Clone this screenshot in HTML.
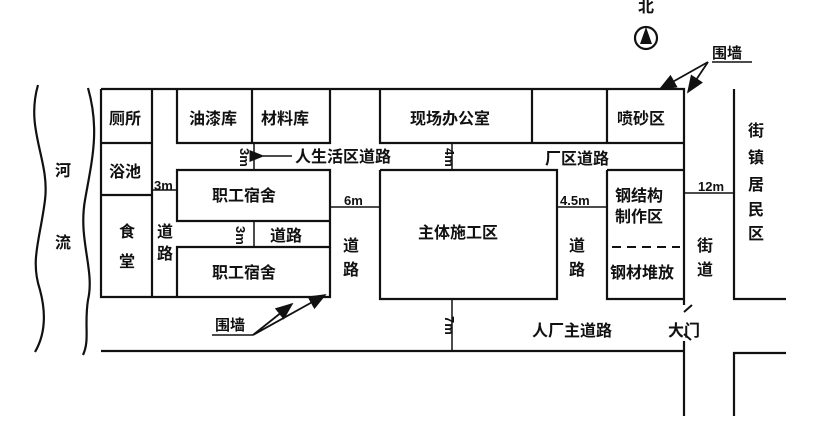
<!DOCTYPE html>
<html><head><meta charset="utf-8"><style>
html,body{margin:0;padding:0;background:#fff;}
svg text{font-family:"Liberation Sans","Noto Sans CJK SC",sans-serif;font-weight:bold;fill:#111;}
</style></head><body>
<svg width="813" height="416" viewBox="0 0 813 416" xmlns="http://www.w3.org/2000/svg">
<defs><marker id="ah" markerWidth="10" markerHeight="8" refX="9" refY="4" orient="auto"><path d="M0,0 L10,4 L0,8 z" fill="#111"/></marker></defs>
<g stroke="#111" stroke-width="2.2" fill="none">
<path d="M38,85 C25,130 50,160 45,200 C40,240 30,260 40,290 C48,320 42,340 35,352"/>
<path d="M88,88 C100,130 92,160 85,200 C78,240 95,270 88,300 C84,325 90,340 83,355"/>
<path d="M101,89 H684 V305"/>
<path d="M684,341 V416"/>
<path d="M101,89 V297 H177"/>
<path d="M101,351 H684"/>
<path d="M734,89 V299 H786"/>
<path d="M734,416 V353 H786"/>
<path d="M101,143 H152 M101,195 H152 M152,89 V297"/>
<path d="M177,89 V143 H330 V89 M252,89 V143"/>
<path d="M380,89 V143 H684 M532,89 V143 M607,89 V143"/>
<path d="M177,297 V247 H330 V170 H177 V221 H330"/>
<path d="M177,297 H330 V247"/>
<path d="M380,170 V299 H557 V170 H380"/>
<path d="M607,170 V299 H684 M607,170 H684"/>
</g>
<path d="M612,247 H680" stroke="#111" stroke-width="2" stroke-dasharray="9,6"/>
<path d="M684,312 L692,305 M684,334 L691,340" stroke="#111" stroke-width="2"/>
<g stroke="#111" stroke-width="1.5">
<line x1="452" y1="143" x2="452" y2="170"/><line x1="452" y1="299" x2="452" y2="351"/>
<line x1="152" y1="190" x2="177" y2="190"/><line x1="330" y1="207" x2="380" y2="207"/>
<line x1="557" y1="207" x2="607" y2="207"/><line x1="684" y1="193" x2="734" y2="193"/>
<line x1="254" y1="143" x2="254" y2="170"/><line x1="254" y1="221" x2="254" y2="247"/>
</g>
<circle cx="646" cy="38" r="11" stroke="#111" stroke-width="2.2" fill="#fff"/>
<path d="M646,27 L640,44 L652,44 z" fill="#111"/>
<text x="638" y="12" font-size="16">北</text>
<line x1="712" y1="62" x2="752" y2="62" stroke="#111" stroke-width="1.5"/>
<line x1="708" y1="62" x2="660" y2="89" stroke="#111" stroke-width="1.8" marker-end="url(#ah)"/>
<line x1="708" y1="62" x2="688" y2="92" stroke="#111" stroke-width="1.8" marker-end="url(#ah)"/>
<text x="712" y="58" font-size="15">围墙</text>
<line x1="212" y1="335" x2="253" y2="335" stroke="#111" stroke-width="1.5"/>
<line x1="253" y1="335" x2="292" y2="304" stroke="#111" stroke-width="1.8" marker-end="url(#ah)"/>
<line x1="253" y1="335" x2="325" y2="295" stroke="#111" stroke-width="1.8" marker-end="url(#ah)"/>
<text x="215" y="330" font-size="15">围墙</text>
<line x1="263" y1="156" x2="292" y2="156" stroke="#111" stroke-width="1.5" marker-start="url(#ah)"/>
<g font-size="16">
<text x="109" y="124">厕所</text>
<text x="109" y="177">浴池</text>
<text x="119" y="237">食</text><text x="119" y="267">堂</text>
<text x="157" y="237">道</text><text x="157" y="259">路</text>
<text x="189" y="124">油漆库</text>
<text x="261" y="124">材料库</text>
<text x="410" y="124">现场办公室</text>
<text x="617" y="124">喷砂区</text>
<text x="295" y="162">人生活区道路</text>
<text x="545" y="164">厂区道路</text>
<text x="212" y="201">职工宿舍</text>
<text x="212" y="278">职工宿舍</text>
<text x="270" y="241">道路</text>
<text x="343" y="251">道</text><text x="343" y="275">路</text>
<text x="418" y="238">主体施工区</text>
<text x="569" y="251">道</text><text x="569" y="275">路</text>
<text x="615" y="201">钢结构</text>
<text x="615" y="222">制作区</text>
<text x="610" y="278">钢材堆放</text>
<text x="697" y="251">街</text><text x="697" y="275">道</text>
<text x="748" y="136">街</text><text x="748" y="163">镇</text><text x="748" y="190">居</text><text x="748" y="215">民</text><text x="748" y="239">区</text>
<text x="532" y="336">人厂主道路</text>
<text x="668" y="336">大门</text>
<text x="55" y="176">河</text>
<text x="55" y="248">流</text>
</g>
<g font-size="13" font-weight="normal">
<text x="154" y="190">3m</text>
<text x="344" y="205">6m</text>
<text x="560" y="205">4.5m</text>
<text x="698" y="191">12m</text>
<text transform="translate(240,148) rotate(90)">3m</text>
<text transform="translate(445,148) rotate(90)">4m</text>
<text transform="translate(236,226) rotate(90)">3m</text>
<text transform="translate(445,316) rotate(90)">7m</text>
</g>
</svg>
</body></html>
